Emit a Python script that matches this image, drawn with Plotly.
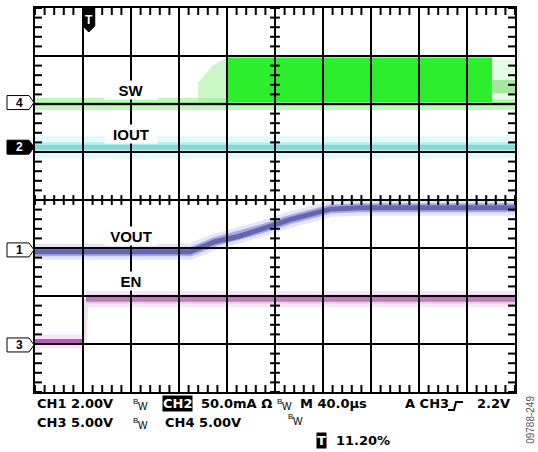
import plotly.graph_objects as go

# ---------------- data (screen divisions: 10 x 8) ----------------
gnd_channels = ["4", "2", "1", "3"]
gnd_levels = [6.03, 5.10, 2.96, 0.98]
gnd_inverted = [False, True, False, False]

sw_base_x = [0, 10]
sw_base_y = [6.0, 6.0]
sw_burst_x = [4.0, 9.52]
sw_burst_low = 6.0
sw_burst_high = 6.97
sw_fade_x = [3.4, 3.7, 4.0]
sw_fade_top = [6.45, 6.8, 6.97]
sw_tail_x = [9.52, 10]
sw_tail_low = 6.22
sw_tail_high = 6.5

iout_x = [0, 10]
iout_y = [5.1, 5.1]

vout_x = [0, 3.23, 3.75, 4.27, 4.73, 5.31, 5.77, 6.15, 6.77, 10]
vout_y = [2.92, 2.92, 3.13, 3.25, 3.40, 3.59, 3.71, 3.81, 3.84, 3.84]

en_x = [0, 1.02, 1.06, 10]
en_y = [1.05, 1.05, 1.93, 1.93]

trigger_pos = 1.12
labels = ["SW", "IOUT", "VOUT", "EN"]
label_x = 2.0
label_y = [6.3, 5.38, 3.25, 2.32]

NX, NY = 10, 8

# ---------------- geometry helpers (layout only) ----------------
W, H = 538, 452
L, R, T, B = 35, 23, 6, 60
PW, PH = W - L - R, H - T - B


def px(xp):
    return (xp - L) / PW


def py(yp):
    return (H - B - yp) / PH


fig = go.Figure()


def band(x, y, color, width, opacity=1.0):
    fig.add_trace(go.Scatter(x=x, y=y, mode="lines", line=dict(color=color, width=width),
                             opacity=opacity, hoverinfo="skip", showlegend=False))


def poly(xs, lo, hi, color, opacity=1.0):
    xx = list(xs) + list(xs)[::-1]
    yy = list(lo) + list(hi)[::-1]
    fig.add_trace(go.Scatter(x=xx, y=yy, mode="lines", fill="toself", fillcolor=color,
                             line=dict(width=0, color=color), opacity=opacity,
                             hoverinfo="skip", showlegend=False))


# SW channel
band(sw_base_x, sw_base_y, "#c2f5bc", 12)
poly(sw_fade_x, [sw_burst_low] * len(sw_fade_x), sw_fade_top, "#9eef98", 0.55)
poly(sw_burst_x, [sw_burst_low] * 2, [sw_burst_high] * 2, "#2cee2c")
poly(sw_tail_x, [sw_burst_low + 0.1] * 2, [sw_burst_high - 0.05] * 2, "#e6fbe4")
poly(sw_tail_x, [sw_tail_low] * 2, [sw_tail_high] * 2, "#a6e6a0")
band(sw_base_x, sw_base_y, "#86e383", 4)

# IOUT channel
band(iout_x, iout_y, "#e2fafa", 22)
band(iout_x, iout_y, "#b8efef", 10)
band(iout_x, iout_y, "#86d9d9", 5)

# VOUT channel
band(vout_x, vout_y, "#e4e4fa", 16)
band(vout_x, vout_y, "#a8a8e6", 9)
band(vout_x, vout_y, "#6666b0", 5)

# EN channel
band(en_x[:2], en_y[:2], "#fbe4fb", 14)
band(en_x[2:], en_y[2:], "#fbe4fb", 16)
band(en_x[1:3], en_y[1:3], "#efe0ef", 5)
band(en_x[2:], en_y[2:], "#ecc8ec", 9)
band(en_x[:2], en_y[:2], "#b45cb8", 5)
band(en_x[2:], en_y[2:], "#be7cbe", 5)

# graticule lines (drawn over the traces, as on the scope screen)
gx, gy = [], []
for i in range(1, NX):
    gx += [i, i, None]
    gy += [0, NY, None]
for j in range(1, NY):
    gx += [0, NX, None]
    gy += [j, j, None]
fig.add_trace(go.Scatter(x=gx, y=gy, mode="lines", line=dict(color="black", width=2),
                         hoverinfo="skip", showlegend=False))

# graticule tick marks
steps = [i / 5 for i in range(NX * 5 + 1)]
vsteps = [i / 5 for i in range(NY * 5 + 1)]
tick_marker = dict(color="black", line=dict(color="black", width=2))
for xe in (0, NX):
    fig.add_trace(go.Scatter(x=[xe] * len(vsteps), y=vsteps, mode="markers",
                             marker=dict(symbol="line-ew", size=10, **tick_marker),
                             hoverinfo="skip", showlegend=False))
for ye in (0, NY):
    fig.add_trace(go.Scatter(x=steps, y=[ye] * len(steps), mode="markers",
                             marker=dict(symbol="line-ns", size=10, **tick_marker),
                             hoverinfo="skip", showlegend=False))
fig.add_trace(go.Scatter(x=[NX / 2] * len(vsteps), y=vsteps, mode="markers",
                         marker=dict(symbol="line-ew", size=7, **tick_marker),
                         hoverinfo="skip", showlegend=False))
fig.add_trace(go.Scatter(x=steps, y=[NY / 2] * len(steps), mode="markers",
                         marker=dict(symbol="line-ns", size=7, **tick_marker),
                         hoverinfo="skip", showlegend=False))

shapes = []
annotations = []
FONT_LBL = "Liberation Sans, Arial, sans-serif"
FONT_BOT = "DejaVu Sans, Verdana, sans-serif"

# ground markers
for ch, lv, inv in zip(gnd_channels, gnd_levels, gnd_inverted):
    shapes.append(dict(type="path", xref="paper", yref="paper", xsizemode="pixel",
                       ysizemode="pixel", xanchor=0, yanchor=lv / NY,
                       path="M -28,-7 L -6,-7 L -1,0 L -6,7 L -28,7 Z",
                       fillcolor="black" if inv else "white",
                       line=dict(color="black", width=1)))
    annotations.append(dict(xref="paper", yref="paper", x=0, y=lv / NY, xshift=-16,
                            xanchor="center", yanchor="middle",
                            text=ch, showarrow=False,
                            font=dict(family=FONT_LBL, size=12, weight="bold",
                                      color="white" if inv else "black")))

# trigger marker
shapes.append(dict(type="path", xref="paper", yref="paper", xsizemode="pixel",
                   ysizemode="pixel", xanchor=trigger_pos / NX, yanchor=1,
                   path="M -6,1 L 6,1 L 6,-18 L 0,-24 L -6,-18 Z",
                   fillcolor="black", line=dict(color="black", width=1)))
annotations.append(dict(xref="paper", yref="paper", x=trigger_pos / NX, y=py(18),
                        xanchor="center", yanchor="middle",
                        text="T", showarrow=False,
                        font=dict(family=FONT_LBL, size=12, weight="bold", color="white")))

# channel labels
for lab, ly in zip(labels, label_y):
    annotations.append(dict(xref="x", yref="y", x=label_x, y=ly, text=lab,
                            xanchor="center", yanchor="middle",
                            showarrow=False, bgcolor="white", width=52, height=18,
                            borderpad=0,
                            font=dict(family=FONT_LBL, size=15, weight="bold",
                                      color="black")))


# bottom status text
def txt(xp, yp, s, size=13, color="black", bg=None, family=FONT_BOT, weight="bold"):
    d = dict(xref="paper", yref="paper", x=px(xp), y=py(yp), xanchor="left",
             yanchor="middle", text=s, showarrow=False,
             font=dict(family=family, size=size, color=color, weight=weight))
    if bg:
        d["bgcolor"] = bg
        d["borderpad"] = 0
    annotations.append(d)


def bw(xp, yp):
    txt(xp, yp - 3, "B", size=8, family=FONT_LBL, weight="normal")
    txt(xp + 5, yp + 2, "W", size=10, family=FONT_LBL, weight="normal")


txt(35, 404, "CH1 2.00V")
bw(131, 405)
txt(162, 404, "CH2", color="white", bg="black")
txt(199, 404, "50.0mA Ω")
bw(275, 405)
txt(298, 404, "M 40.0µs")
txt(403, 404, "A CH3")
txt(475, 404, "2.2V")
txt(35, 423, "CH3 5.00V")
bw(131, 424)
txt(163, 423, "CH4 5.00V")
bw(286, 420)
txt(316, 441, "T", color="white", bg="black")
txt(334, 441, "11.20%")

# trigger slope symbol
shapes.append(dict(type="path", xref="paper", yref="paper", xsizemode="pixel",
                   ysizemode="pixel", xanchor=px(448), yanchor=py(410),
                   path="M 0,0 L 6,0 L 8,8 L 15,8",
                   line=dict(color="black", width=2)))

annotations.append(dict(xref="paper", yref="paper", x=px(531), y=py(420),
                        xanchor="center", yanchor="middle",
                        text="09788-249", textangle=-90, showarrow=False,
                        font=dict(family="Liberation Sans, Arial, sans-serif", size=10,
                                  color="#555555")))

fig.update_layout(
    width=W, height=H,
    margin=dict(l=L, r=R, t=T, b=B),
    paper_bgcolor="white", plot_bgcolor="white",
    showlegend=False,
    shapes=shapes, annotations=annotations,
    xaxis=dict(range=[0, NX], showgrid=False, zeroline=False, showticklabels=False,
               ticks="", showline=True, mirror=True, linecolor="black", linewidth=2,
               fixedrange=True),
    yaxis=dict(range=[0, NY], showgrid=False, zeroline=False, showticklabels=False,
               ticks="", showline=True, mirror=True, linecolor="black", linewidth=2,
               fixedrange=True),
)

fig.write_html("out.html", config={"displayModeBar": False})
